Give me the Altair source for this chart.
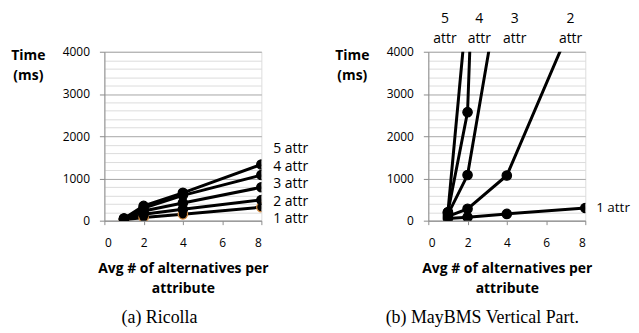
import altair as alt
import pandas as pd

# ---------------- data ----------------
x_vals = [1, 2, 4, 8]
series_names = ["1 attr", "2 attr", "3 attr", "4 attr", "5 attr"]

# (a) Ricolla
ricolla_1 = [20, 75, 150, 320]
ricolla_2 = [30, 150, 270, 490]
ricolla_3 = [40, 230, 420, 790]
ricolla_4 = [50, 300, 600, 1080]
ricolla_5 = [50, 350, 660, 1330]

# (b) MayBMS Vertical Part. (None = not measured / off chart)
maybms_1 = [50, 80, 160, 300]
maybms_2 = [100, 280, 1070, 5400]
maybms_3 = [150, 1080, 6500, None]
maybms_4 = [200, 2570, 28000, None]
maybms_5 = [200, 5200, None, None]

# label anchors
ricolla_label_y = [40, 450, 870, 1280, 1700]
maybms_top_label_x = [7.25, 4.4, 2.6, 0.85]
maybms_top_nums = ["2", "3", "4", "5"]

x_ticks = [0, 2, 4, 6, 8]
y_ticks = list(range(0, 4001, 200))

FONT = "Open Sans"


def frame(rows):
    recs = []
    for name, vals in zip(series_names, rows):
        for x, v in zip(x_vals, vals):
            if v is not None:
                recs.append({"series": name, "x": x, "y": v})
    return pd.DataFrame(recs)


df_a = frame([ricolla_1, ricolla_2, ricolla_3, ricolla_4, ricolla_5])
df_b = frame([maybms_1, maybms_2, maybms_3, maybms_4, maybms_5])

W, H = 158, 170

x_axis = alt.Axis(
    values=x_ticks,
    grid=False,
    labelOverlap=False,
    domainColor="#8c8c8c",
    tickColor="#8c8c8c",
    tickSize=4,
    labelFontSize=12,
    labelPadding=13,
    labelFont=FONT,
    labelColor="black",
    title=["Avg # of alternatives per", "attribute"],
    titleFont=FONT,
    titleFontSize=14,
    titleFontWeight="bold",
    titleColor="black",
    titleLineHeight=20,
    titlePadding=13,
)

y_axis = alt.Axis(
    values=y_ticks,
    labelOverlap=False,
    labelExpr="datum.value % 1000 === 0 ? '' + datum.value : ''",
    gridColor={
        "condition": {"test": "datum.value % 1000 === 0", "value": "#a6a6a6"},
        "value": "#dcdcdc",
    },
    tickOpacity={
        "condition": {"test": "datum.value % 1000 === 0", "value": 1},
        "value": 0,
    },
    tickColor="#8c8c8c",
    tickSize=5,
    domainColor="#8c8c8c",
    labelFont=FONT,
    labelFontSize=12,
    labelColor="black",
    labelPadding=10,
    title=["Time", "(ms)"],
    titleFont=FONT,
    titleFontSize=14,
    titleFontWeight="bold",
    titleColor="black",
    titleAngle=0,
    titleAlign="center",
    titleBaseline="top",
    titleLineHeight=20,
    titleX=-77,
    titleY=-3,
)

x_enc = alt.X("x:Q", scale=alt.Scale(domain=[0, 8], nice=False), axis=x_axis)
y_enc = alt.Y("y:Q", scale=alt.Scale(domain=[0, 4000], nice=False), axis=y_axis)


def panel(df, orange_first):
    base = alt.Chart(df)
    lines = base.mark_line(color="black", strokeWidth=3, clip=True).encode(
        x=x_enc, y=y_enc, detail="series:N"
    )
    if orange_first:
        stroke = alt.condition(
            alt.datum.series == "1 attr", alt.value("#d48a3e"), alt.value("black")
        )
    else:
        stroke = alt.value("black")
    pts = base.mark_point(
        filled=True, size=90, strokeWidth=1.2, clip=True
    ).encode(x=x_enc, y=y_enc, stroke=stroke, fill=alt.value("black"), opacity=alt.value(1))
    return lines, pts


la, pa = panel(df_a, True)
lab_a = pd.DataFrame({"series": series_names, "x": [8] * 5, "y": ricolla_label_y})
text_a = alt.Chart(lab_a).mark_text(
    align="left", baseline="middle", dx=12, font=FONT, fontSize=14, color="black"
).encode(x=x_enc, y=y_enc, text="series:N")

cap_style = dict(
    orient="bottom",
    anchor="middle",
    frame="bounds",
    font="Liberation Serif",
    fontSize=18,
    fontWeight="normal",
    color="black",
    offset=14,
)

left = alt.layer(la, pa, text_a).properties(
    width=W, height=H, title=alt.TitleParams("(a) Ricolla", **cap_style)
)

lb, pb = panel(df_b, False)
lab_b1 = pd.DataFrame({"t": ["1 attr"], "x": [8], "y": [maybms_1[-1]]})
text_b1 = alt.Chart(lab_b1).mark_text(
    align="left", baseline="middle", dx=11, font=FONT, fontSize=13.5, color="black"
).encode(x=x_enc, y=y_enc, text="t:N")
lab_top = pd.DataFrame(
    {"n": maybms_top_nums, "a": ["attr"] * 4, "x": maybms_top_label_x, "y": [4000] * 4}
)
text_num = alt.Chart(lab_top).mark_text(
    align="center", baseline="middle", dy=-33, font=FONT, fontSize=14, color="black"
).encode(x=x_enc, y=y_enc, text="n:N")
text_attr = alt.Chart(lab_top).mark_text(
    align="center", baseline="middle", dy=-13, font=FONT, fontSize=14, color="black"
).encode(x=x_enc, y=y_enc, text="a:N")

right = alt.layer(lb, pb, text_b1, text_num, text_attr).properties(
    width=W, height=H, title=alt.TitleParams("(b) MayBMS Vertical Part.", **cap_style)
)

chart = (
    alt.hconcat(left, right, spacing=168, bounds="flush")
    .properties(padding={"left": 2, "top": 2, "right": 0, "bottom": 0})
    .configure_view(stroke=None)
    .configure(background="white")
)

chart.save("out.html", embed_options={"renderer": "svg", "actions": False})
